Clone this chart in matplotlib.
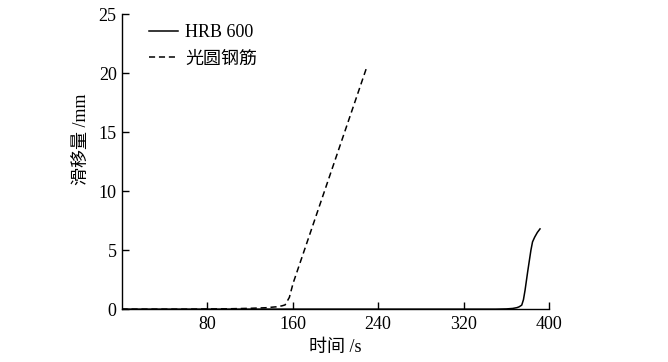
import matplotlib
matplotlib.use("Agg")
import matplotlib.pyplot as plt

plt.rcParams['font.family'] = ['Liberation Serif', 'Noto Sans CJK SC']
plt.rcParams['mathtext.fontset'] = 'stix'

# Slip vs time
t_round = [0, 60, 100, 120, 135, 145, 150, 153, 157, 160.5, 229]
s_round = [0, 0.0, 0.03, 0.07, 0.12, 0.2, 0.28, 0.36, 1.0, 2.2, 20.4]

t_hrb = [0, 300, 350, 360, 366, 370, 372, 374.4, 376, 377.5, 380, 383, 384.5, 386.5, 389, 391.5]
s_hrb = [0, 0.0, 0.0, 0.02, 0.06, 0.13, 0.2, 0.34, 0.8, 1.6, 3.2, 5.0, 5.7, 6.1, 6.5, 6.8]

xticks = [80, 160, 240, 320, 400]
yticks = [0, 5, 10, 15, 20, 25]

fig = plt.figure(figsize=(6.68, 3.62), dpi=100)
ax = fig.add_axes([0.182, 0.146, 0.640, 0.815])

ax.plot(t_hrb, s_hrb, color='black', lw=1.1, label='HRB 600')
ax.plot(t_round, s_round, color='black', lw=1.1, ls=(0, (4, 2.5)), label='光圆钢筋')

ax.set_xlim(0, 400)
ax.set_ylim(0, 25)
ax.set_xticks(xticks)
ax.set_yticks(yticks)
ax.tick_params(direction='in', length=5, labelsize=13, width=1)
ax.tick_params(axis='x', pad=5)
for s in ['top', 'right']:
    ax.spines[s].set_visible(False)
for s in ['left', 'bottom']:
    ax.spines[s].set_linewidth(1)

ax.set_xlabel('时间 /s', fontsize=13, labelpad=4)
ax.set_ylabel('滑移量 /mm', fontsize=13)
ax.yaxis.set_label_coords(-0.075, 0.576)

ax.legend(loc='upper left', frameon=False, fontsize=13, handlelength=1.6,
          handletextpad=0.4, labelspacing=0.5, bbox_to_anchor=(0.027, 1.02))

fig.savefig('out.png', dpi=100)
